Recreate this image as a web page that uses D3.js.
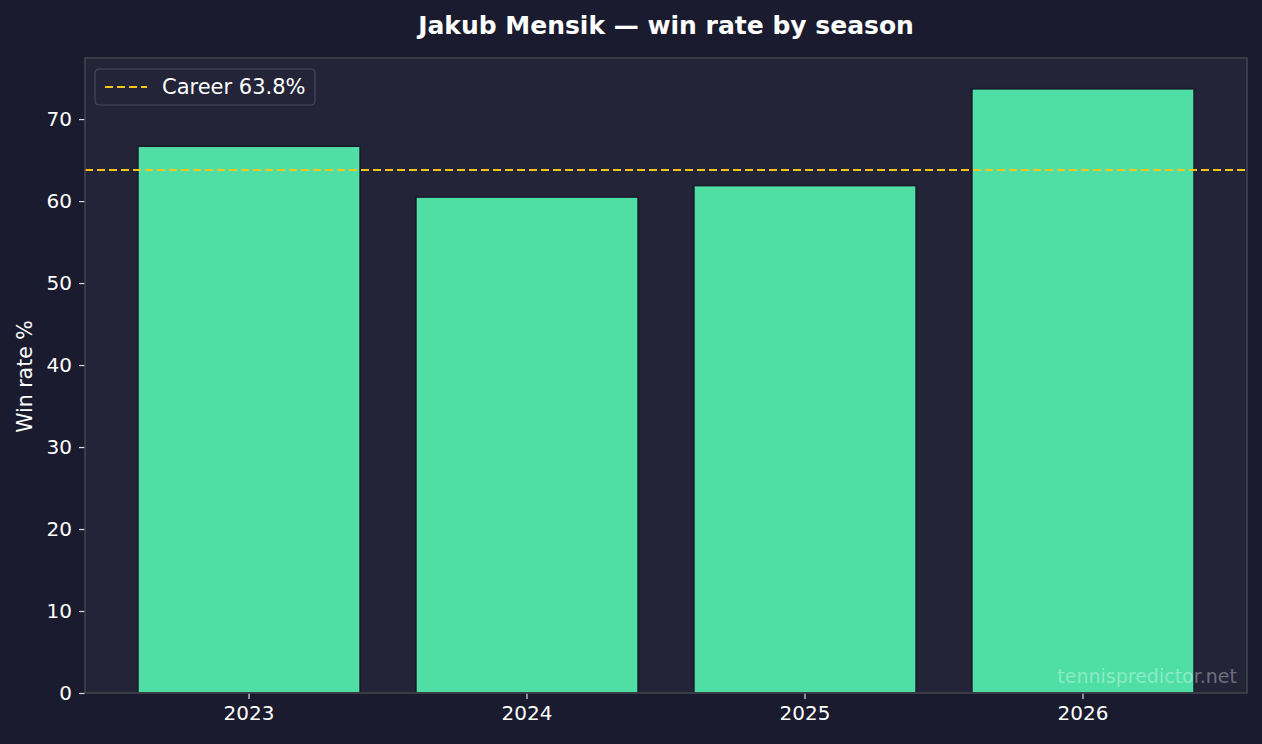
<!doctype html>
<meta charset="utf-8">
<style>
  body { margin: 0; background: #1a1b2e; }
  svg text { font-family: "DejaVu Sans", sans-serif; }
  .tick text { fill: #ffffff; font-size: 20px; }
  .tick line { stroke: #dddddd; stroke-width: 1.2; }
</style>
<body>
<svg id="chart" width="1262" height="744"></svg>
<script src="https://cdn.jsdelivr.net/npm/d3@7"></script>
<script>
  // data
  const seasons = ["2023", "2024", "2025", "2026"];
  const winRates = [66.7, 60.5, 61.9, 73.7];
  const careerRate = 63.8;
  const yTicks = [0, 10, 20, 30, 40, 50, 60, 70];

  const W = 1262, H = 744;
  const margin = {top: 58, right: 15, bottom: 51, left: 85};
  const width = W - margin.left - margin.right,
        height = H - margin.top - margin.bottom;

  const svg = d3.select("#chart");
  svg.append("rect").attr("width", W).attr("height", H).attr("fill", "#1a1b2e");

  const g = svg.append("g")
    .attr("transform", "translate(" + margin.left + "," + margin.top + ")");

  g.append("rect")
    .attr("width", width)
    .attr("height", height)
    .attr("fill", "#232438");

  const x = d3.scaleBand()
    .domain(seasons)
    .range([0, width])
    .paddingInner(0.2)
    .paddingOuter(0.19);

  const y = d3.scaleLinear()
    .domain([0, 77.45])
    .range([height, 0]);

  // bars
  g.selectAll(".bar")
    .data(seasons)
    .enter()
    .append("rect")
    .attr("class", "bar")
    .attr("x", d => x(d))
    .attr("y", (d, i) => y(winRates[i]))
    .attr("width", x.bandwidth())
    .attr("height", (d, i) => height - y(winRates[i]))
    .attr("fill", "#4fdfa5")
    .attr("stroke", "#1a1b2e")
    .attr("stroke-width", 1.8);

  // career line
  g.append("line")
    .attr("x1", 0)
    .attr("x2", width)
    .attr("y1", y(careerRate))
    .attr("y2", y(careerRate))
    .attr("stroke", "#f5c518")
    .attr("stroke-width", 2)
    .attr("stroke-dasharray", "8,4");

  // axes
  const xAxis = d3.axisBottom(x).tickSize(6).tickSizeOuter(0).tickPadding(7);
  const yAxis = d3.axisLeft(y).tickValues(yTicks).tickSize(6).tickSizeOuter(0).tickPadding(7);

  g.append("g")
    .attr("transform", "translate(0," + height + ")")
    .call(xAxis)
    .call(a => a.select(".domain").remove());

  g.append("g")
    .call(yAxis)
    .call(a => a.select(".domain").remove());

  // frame
  g.append("rect")
    .attr("width", width)
    .attr("height", height)
    .attr("fill", "none")
    .attr("stroke", "#46464f")
    .attr("stroke-width", 1.5);

  // legend
  const leg = g.append("g").attr("transform", "translate(10,11)");
  leg.append("rect")
    .attr("width", 220)
    .attr("height", 36)
    .attr("rx", 4)
    .attr("fill", "#232438")
    .attr("stroke", "#48485a")
    .attr("stroke-width", 1.2);
  leg.append("line")
    .attr("x1", 10).attr("x2", 52)
    .attr("y1", 18).attr("y2", 18)
    .attr("stroke", "#f5c518")
    .attr("stroke-width", 2)
    .attr("stroke-dasharray", "8,4");
  leg.append("text")
    .attr("x", 67)
    .attr("y", 25)
    .attr("fill", "#ffffff")
    .attr("font-size", 21)
    .text("Career " + careerRate + "%");

  // watermark
  g.append("text")
    .attr("x", width - 10)
    .attr("y", height - 10)
    .attr("text-anchor", "end")
    .attr("fill", "#ffffff")
    .attr("fill-opacity", 0.35)
    .attr("font-size", 19)
    .text("tennispredictor.net");

  // y label
  svg.append("text")
    .attr("transform", "translate(32," + (margin.top + height / 2 + 1) + ") rotate(-90)")
    .attr("text-anchor", "middle")
    .attr("fill", "#ffffff")
    .attr("font-size", 20.5)
    .text("Win rate %");

  // title
  svg.append("text")
    .attr("x", 666)
    .attr("y", 34)
    .attr("text-anchor", "middle")
    .attr("fill", "#ffffff")
    .attr("font-size", 25)
    .attr("font-weight", "bold")
    .text("Jakub Mensik — win rate by season");
</script>
</body>
